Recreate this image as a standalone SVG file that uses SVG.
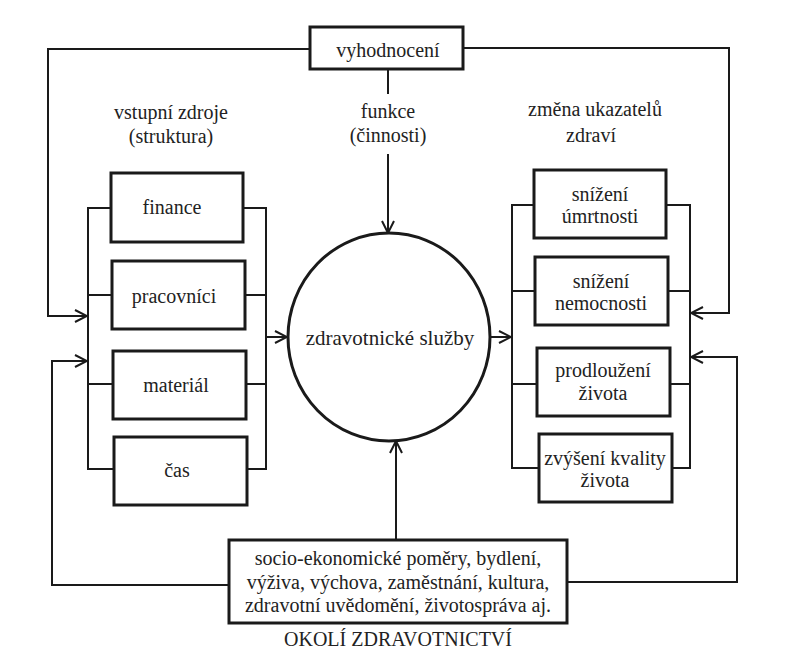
<svg xmlns="http://www.w3.org/2000/svg" width="811" height="661" viewBox="0 0 811 661">
<defs>
<style>
.t{font-family:"Liberation Serif","Times New Roman",serif;font-size:20px;fill:#222;text-anchor:middle}
.box{fill:#fff;stroke:#1a1a1a;stroke-width:3}
.ln{fill:none;stroke:#1a1a1a;stroke-width:2}
</style>
<marker id="ar" viewBox="0 0 14 14" refX="13" refY="7" markerWidth="14" markerHeight="14" markerUnits="userSpaceOnUse" orient="auto">
<path d="M1,1 L13,7 L1,13" fill="none" stroke="#1a1a1a" stroke-width="2"/>
</marker>
</defs>
<rect width="811" height="661" fill="#fff"/>
<g id="connectors">
<polyline class="ln" points="310,49 48,49 48,316 87,316" marker-end="url(#ar)"/>
<polyline class="ln" points="463,48 729,48 729,313 691,313" marker-end="url(#ar)"/>
<line class="ln" x1="388" y1="69" x2="388" y2="94"/>
<line class="ln" x1="388" y1="154" x2="388" y2="233" marker-end="url(#ar)"/>
<polyline class="ln" points="229,585 52,585 52,361 87,361" marker-end="url(#ar)"/>
<polyline class="ln" points="567,582 737,582 737,357 691,357" marker-end="url(#ar)"/>
<line class="ln" x1="396" y1="540" x2="396" y2="441" marker-end="url(#ar)"/>
<polyline class="ln" points="111,208 88,208 88,469 114,469"/>
<line class="ln" x1="88" y1="295" x2="112" y2="295"/>
<line class="ln" x1="88" y1="384" x2="113" y2="384"/>
<polyline class="ln" points="243,208 266,208 266,469 247,469"/>
<line class="ln" x1="245" y1="295" x2="266" y2="295"/>
<line class="ln" x1="246" y1="384" x2="266" y2="384"/>
<line class="ln" x1="266" y1="337" x2="287" y2="337" marker-end="url(#ar)"/>
<polyline class="ln" points="534,205 512,205 512,468 539,468"/>
<line class="ln" x1="512" y1="291" x2="535" y2="291"/>
<line class="ln" x1="512" y1="384" x2="537" y2="384"/>
<polyline class="ln" points="666,205 690,205 690,468 671,468"/>
<line class="ln" x1="668" y1="291" x2="690" y2="291"/>
<line class="ln" x1="670" y1="384" x2="690" y2="384"/>
<line class="ln" x1="491" y1="337" x2="511" y2="337" marker-end="url(#ar)"/>
</g>
<g id="vyhodnoceni">
<rect class="box" x="310" y="27" width="153" height="42" stroke-width="2.5"/>
<text class="t" x="388" y="57">vyhodnocení</text>
</g>
<g id="label-vstupni">
<text class="t" x="171" y="119">vstupní zdroje</text>
<text class="t" x="171" y="143">(struktura)</text>
</g>
<g id="label-funkce">
<text class="t" x="388" y="118">funkce</text>
<text class="t" x="388" y="142">(činnosti)</text>
</g>
<g id="label-zmena">
<text class="t" x="595" y="116">změna ukazatelů</text>
<text class="t" x="591" y="142">zdraví</text>
</g>
<g id="finance">
<rect class="box" x="111" y="173" width="132" height="69"/>
<text class="t" x="172" y="214">finance</text>
</g>
<g id="pracovnici">
<rect class="box" x="112" y="261" width="133" height="68"/>
<text class="t" x="174" y="303">pracovníci</text>
</g>
<g id="material">
<rect class="box" x="113" y="351" width="133" height="68"/>
<text class="t" x="176" y="392">materiál</text>
</g>
<g id="cas">
<rect class="box" x="114" y="437" width="133" height="68"/>
<text class="t" x="177" y="477">čas</text>
</g>
<g id="sluzby">
<ellipse cx="389" cy="337" rx="101" ry="104" fill="#fff" stroke="#1a1a1a" stroke-width="3"/>
<text class="t" x="390" y="345" style="font-size:21px">zdravotnické služby</text>
</g>
<g id="umrtnost">
<rect class="box" x="534" y="170" width="132" height="68"/>
<text class="t" x="600" y="201">snížení</text>
<text class="t" x="600" y="223">úmrtnosti</text>
</g>
<g id="nemocnost">
<rect class="box" x="535" y="257" width="133" height="68"/>
<text class="t" x="601" y="288">snížení</text>
<text class="t" x="601" y="310">nemocnosti</text>
</g>
<g id="prodlouzeni">
<rect class="box" x="537" y="348" width="133" height="68"/>
<text class="t" x="603" y="377">prodloužení</text>
<text class="t" x="603" y="400">života</text>
</g>
<g id="kvalita">
<rect class="box" x="539" y="434" width="133" height="68"/>
<text class="t" x="605" y="465">zvýšení kvality</text>
<text class="t" x="605" y="487">života</text>
</g>
<g id="okoli">
<rect class="box" x="229" y="540" width="338" height="83" stroke-width="2.5"/>
<text class="t" x="398" y="565">socio-ekonomické poměry, bydlení,</text>
<text class="t" x="398" y="589">výživa, výchova, zaměstnání, kultura,</text>
<text class="t" x="398" y="612">zdravotní uvědomění, životospráva aj.</text>
<text class="t" x="398" y="646">OKOLÍ ZDRAVOTNICTVÍ</text>
</g>
</svg>
